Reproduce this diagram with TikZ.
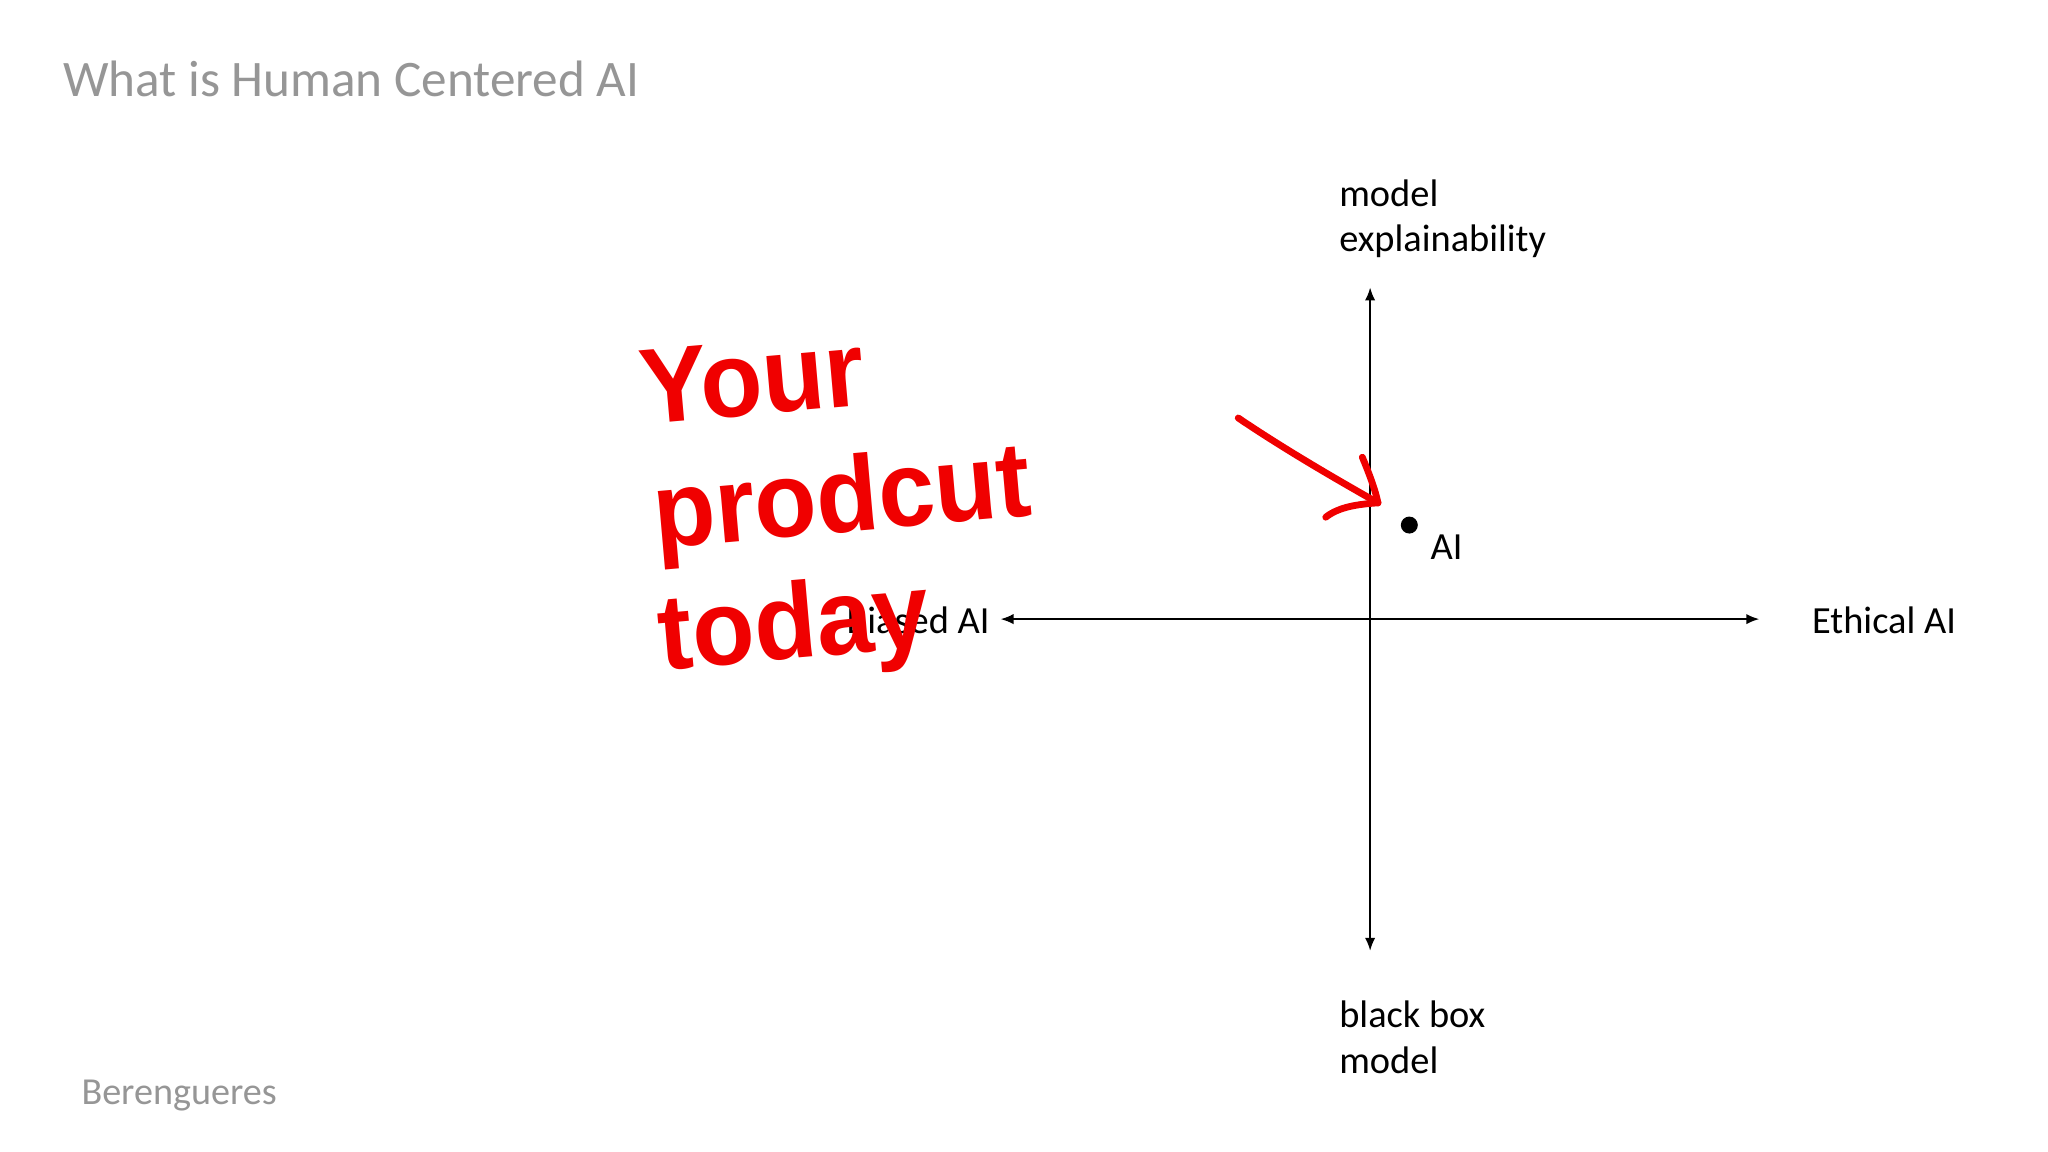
\documentclass[tikz,border=0pt]{standalone}
\usepackage{fontspec}
\setmainfont{Carlito}
\newfontfamily\redfont{Liberation Sans}
\usetikzlibrary{arrows.meta}
\definecolor{titlegray}{RGB}{150,150,150}
\definecolor{handred}{RGB}{240,0,0}
\tikzset{
  lbl/.style={font=\fontsize{14.7}{17.5}\selectfont, inner sep=0pt},
  axis/.style={line width=0.8pt, -{Latex[length=5pt,width=4pt]}},
  big/.style={font=\redfont\bfseries\fontsize{41}{44}\selectfont, text=handred, inner sep=0pt, anchor=base west, rotate=5, xscale=0.95},
  pen/.style={draw=handred, line width=2.6pt, line cap=round}
}
\begin{document}
\begin{tikzpicture}[x=0.5pt,y=-0.5pt]
\useasboundingbox (0,0) rectangle (1568,882);
\fill[white] (0,0) rectangle (1568,882);
\node[anchor=base west, text=titlegray, font=\fontsize{19.6}{23}\selectfont, inner sep=0pt] (title) at (48,74) {What is Human Centered AI};
\node[anchor=base west, text=titlegray, font=\fontsize{14.6}{18}\selectfont, inner sep=0pt] (author) at (62,846) {Berengueres};
\coordinate (o) at (1049,474);
\coordinate (top) at (1049,220);
\coordinate (bot) at (1049,728);
\coordinate (lft) at (766,474);
\coordinate (rgt) at (1347,474);
\draw[axis] (o) -- (top);
\draw[axis] (o) -- (bot);
\draw[axis] (o) -- (lft);
\draw[axis] (o) -- (rgt);
\node[lbl, anchor=north west, align=left] (up) at (1025,137) {model\\explainability};
\node[lbl, anchor=north west, align=left] (down) at (1025,766) {black box\\model};
\node[lbl, anchor=west] (eth) at (1387,475) {Ethical AI};
\node[lbl, anchor=east] (bias) at (758,475) {Biased AI};
\fill (1079,402) circle (6.5);
\node[lbl, anchor=base west] (ai) at (1095,428) {AI};
\node[big] (l1) at (492,325) {Your};
\node[big] (l2) at (502,420) {prodcut};
\node[big] (l3) at (506,513) {today};
\coordinate (as) at (948,320);
\coordinate (ae) at (1055,385);
\draw[pen] (as) .. controls (985,345) and (1025,368) .. (ae);
\draw[pen] (1043,350) .. controls (1048,362) and (1053,375) .. (ae);
\draw[pen] (1015,396) .. controls (1025,388) and (1040,386) .. (ae);
\end{tikzpicture}
\end{document}
